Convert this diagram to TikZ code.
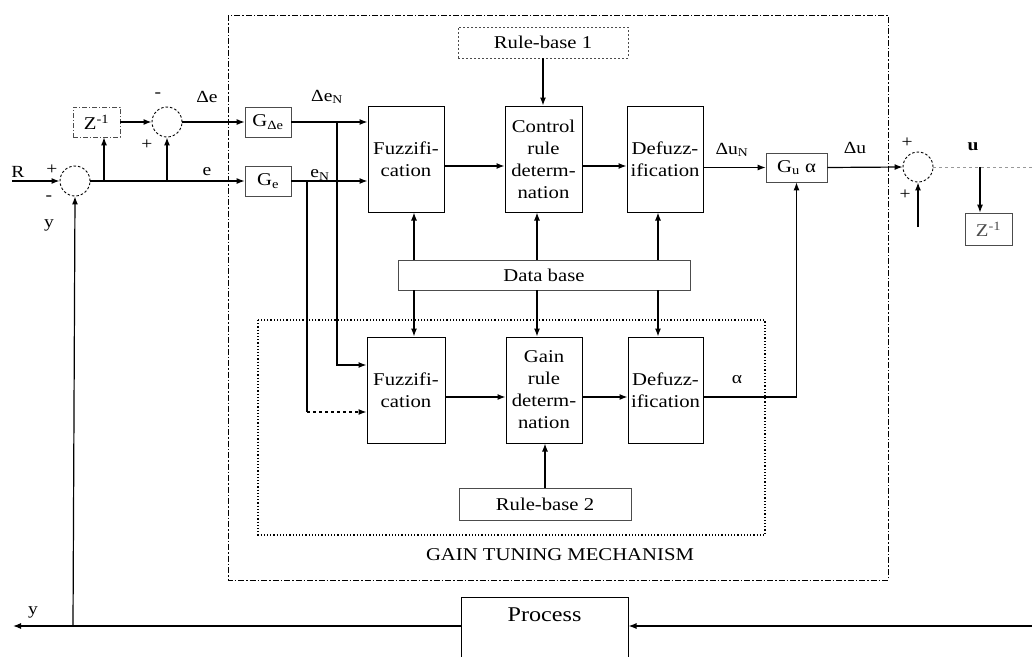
\documentclass[tikz,border=0pt]{standalone}
\usepackage{fontspec}
\setmainfont{Liberation Serif}[FakeStretch=1.15]
\usetikzlibrary{arrows.meta}
\begin{document}
\begin{tikzpicture}[x=1pt,y=-1pt,
  every node/.style={font=\fontsize{18}{22}\selectfont},
  ar/.style={-{Latex[length=8pt,width=6pt]}, line width=1.2pt},
  ln/.style={line width=1.2pt},
  blk/.style={draw, line width=1pt, align=center, inner sep=0pt},
  lite/.style={draw=black!70, line width=0.7pt, align=center, inner sep=0pt},
  sumc/.style={circle, draw, dash pattern=on 2.5pt off 2pt, line width=0.9pt, minimum size=30pt, inner sep=0pt},
  lab/.style={font=\fontsize{17}{19}\selectfont, inner sep=0pt},
]
\useasboundingbox (0,0) rectangle (1032,656);
\clip (0,0) rectangle (1032,656);

% frames
\draw[dash pattern=on 6pt off 2pt on 1.5pt off 2pt, line width=0.9pt] (228,15) rectangle (888,580);
\draw[dotted, line width=1.2pt] (258,320) rectangle (765,535);
\node at (560,555) {GAIN TUNING MECHANISM};

% main blocks
\node[blk, minimum width=76pt, minimum height=106pt] (fz1) at (406,159) {Fuzzifi-\\cation};
\node[blk, minimum width=77pt, minimum height=106pt] (cr) at (543.5,159) {Control\\rule\\determ-\\nation};
\node[blk, minimum width=76pt, minimum height=106pt] (df1) at (665,159) {Defuzz-\\ification};
\node[blk, minimum width=78pt, minimum height=106pt] (fz2) at (406,390) {Fuzzifi-\\cation};
\node[blk, minimum width=76pt, minimum height=106pt] (gr) at (544,390) {Gain\\rule\\determ-\\nation};
\node[blk, minimum width=75pt, minimum height=106pt] (df2) at (665.5,390) {Defuzz-\\ification};

\node[lite, dash pattern=on 2pt off 2pt, minimum width=170pt, minimum height=31pt] (rb1) at (543,42.5) {Rule-base 1};
\node[lite, minimum width=292pt, minimum height=30pt] (db) at (544,275) {Data base};
\node[lite, minimum width=172pt, minimum height=32pt] (rb2) at (545,504) {Rule-base 2};

\node[lite, minimum width=46pt, minimum height=30pt] (gde) at (268,122) {G\textsubscript{Δe}};
\node[lite, minimum width=46pt, minimum height=30pt] (ge) at (268,181) {G\textsubscript{e}};
\node[lite, minimum width=61pt, minimum height=29pt] (gua) at (796.5,167.5) {G\textsubscript{u} α};
\node[lite, dash pattern=on 5pt off 2pt on 1pt off 2pt, minimum width=47pt, minimum height=30pt] (z1) at (96.5,122) {Z\textsuperscript{-1}};
\node[lite, minimum width=47pt, minimum height=32pt, text=black!70] (z2) at (988.5,229) {Z\textsuperscript{-1}};

\node[draw, line width=1pt, minimum width=167pt, inner sep=0pt, text height=24pt, text depth=45pt,
      font=\fontsize{21}{24}\selectfont] (proc) at (544.5,631.5) {Process};

% summing junctions
\node[sumc] (s1) at (167,122) {};
\node[sumc] (s2) at (75,181) {};
\node[sumc] (s3) at (918,167) {};

% coordinates
\coordinate (rin) at (12,181);
\coordinate (c1) at (104,181);
\coordinate (c2) at (167,181);
\coordinate (b1) at (337,122);
\coordinate (b2) at (307,181);
\coordinate (ybr) at (73,626);
\coordinate (yout) at (13,626);
\coordinate (pin) at (1032,626);
\coordinate (uout) at (1032,167);
\coordinate (ubr) at (980,167);
\coordinate (s3in) at (918,227);
\coordinate (k1) at (414,0);
\coordinate (k2) at (537,0);
\coordinate (k3) at (658,0);
\coordinate (f2a) at ([yshift=25pt]fz2.west);
\coordinate (f2b) at ([yshift=-22pt]fz2.west);

% connectors
\draw[ar] (rin) -- (s2.west);
\draw[ar] (s2.east) -- (ge.west);
\draw[ar] (c1) -- (c1 |- z1.south);
\draw[ar] (c2) -- (s1.south);
\draw[ar] (z1.east) -- (s1.west);
\draw[ar] (s1.east) -- (gde.west);
\draw[ar] (gde.east) -- (gde.east -| fz1.west);
\draw[ar] (ge.east) -- (ge.east -| fz1.west);
\draw[ar] ([yshift=-7pt]fz1.east) -- ([yshift=-7pt]cr.west);
\draw[ar] ([yshift=-7pt]cr.east) -- ([yshift=-7pt]df1.west);
\draw[ar] (df1.east |- gua.west) -- (gua.west);
\draw[ar] (gua.east) -- (s3.west);
\draw[dashed, black!40, line width=0.8pt] (s3.east) -- (uout);
\draw[ar] (ubr) -- (ubr |- z2.north);
\draw[ar] (s3in) -- (s3.south);
\draw[ar] (rb1.south) -- (rb1.south |- cr.north);
\foreach \k in {k1,k2,k3} {
  \draw[ar] (\k |- db.north) -- (\k |- fz1.south);
  \draw[ar] (\k |- db.south) -- (\k |- fz2.north);
}
\draw[ar] ([yshift=-7pt]fz2.east) -- ([yshift=-7pt]gr.west);
\draw[ar] ([yshift=-7pt]gr.east) -- ([yshift=-7pt]df2.west);
\draw[ar] ([yshift=-7pt]df2.east) -| (gua.south);
\draw[ar] (rb2.north) -- (rb2.north |- gr.south);
\draw[ar] (b1) |- (f2a);
\draw[ln] (b2) -- (b2 |- f2b);
\draw[ar, dashed] (b2 |- f2b) -- (f2b);
\draw[ar] (proc.west |- pin) -- (yout);
\draw[ar] (ybr) -- (s2.south);
\draw[ar] (pin) -- (pin -| proc.east);

% labels
\node[lab] at (18,172) {R};
\node[lab] at (52,170) {+};
\node[lab] at (49,198) {-};
\node[lab] at (49,225) {y};
\node[lab] at (158,95) {-};
\node[lab] at (147,145) {+};
\node[lab] at (207,97) {Δe};
\node[lab] at (207,172) {e};
\node[lab] at (327,97) {Δe\textsubscript{N}};
\node[lab] at (320,175) {e\textsubscript{N}};
\node[lab] at (732,150) {Δu\textsubscript{N}};
\node[lab] at (855,148) {Δu};
\node[lab] at (907,143) {+};
\node[lab] at (905,195) {+};
\node[lab] at (973,147) {\textbf{u}};
\node[lab] at (737,380) {α};
\node[lab] at (33,612) {y};
\end{tikzpicture}
\end{document}
